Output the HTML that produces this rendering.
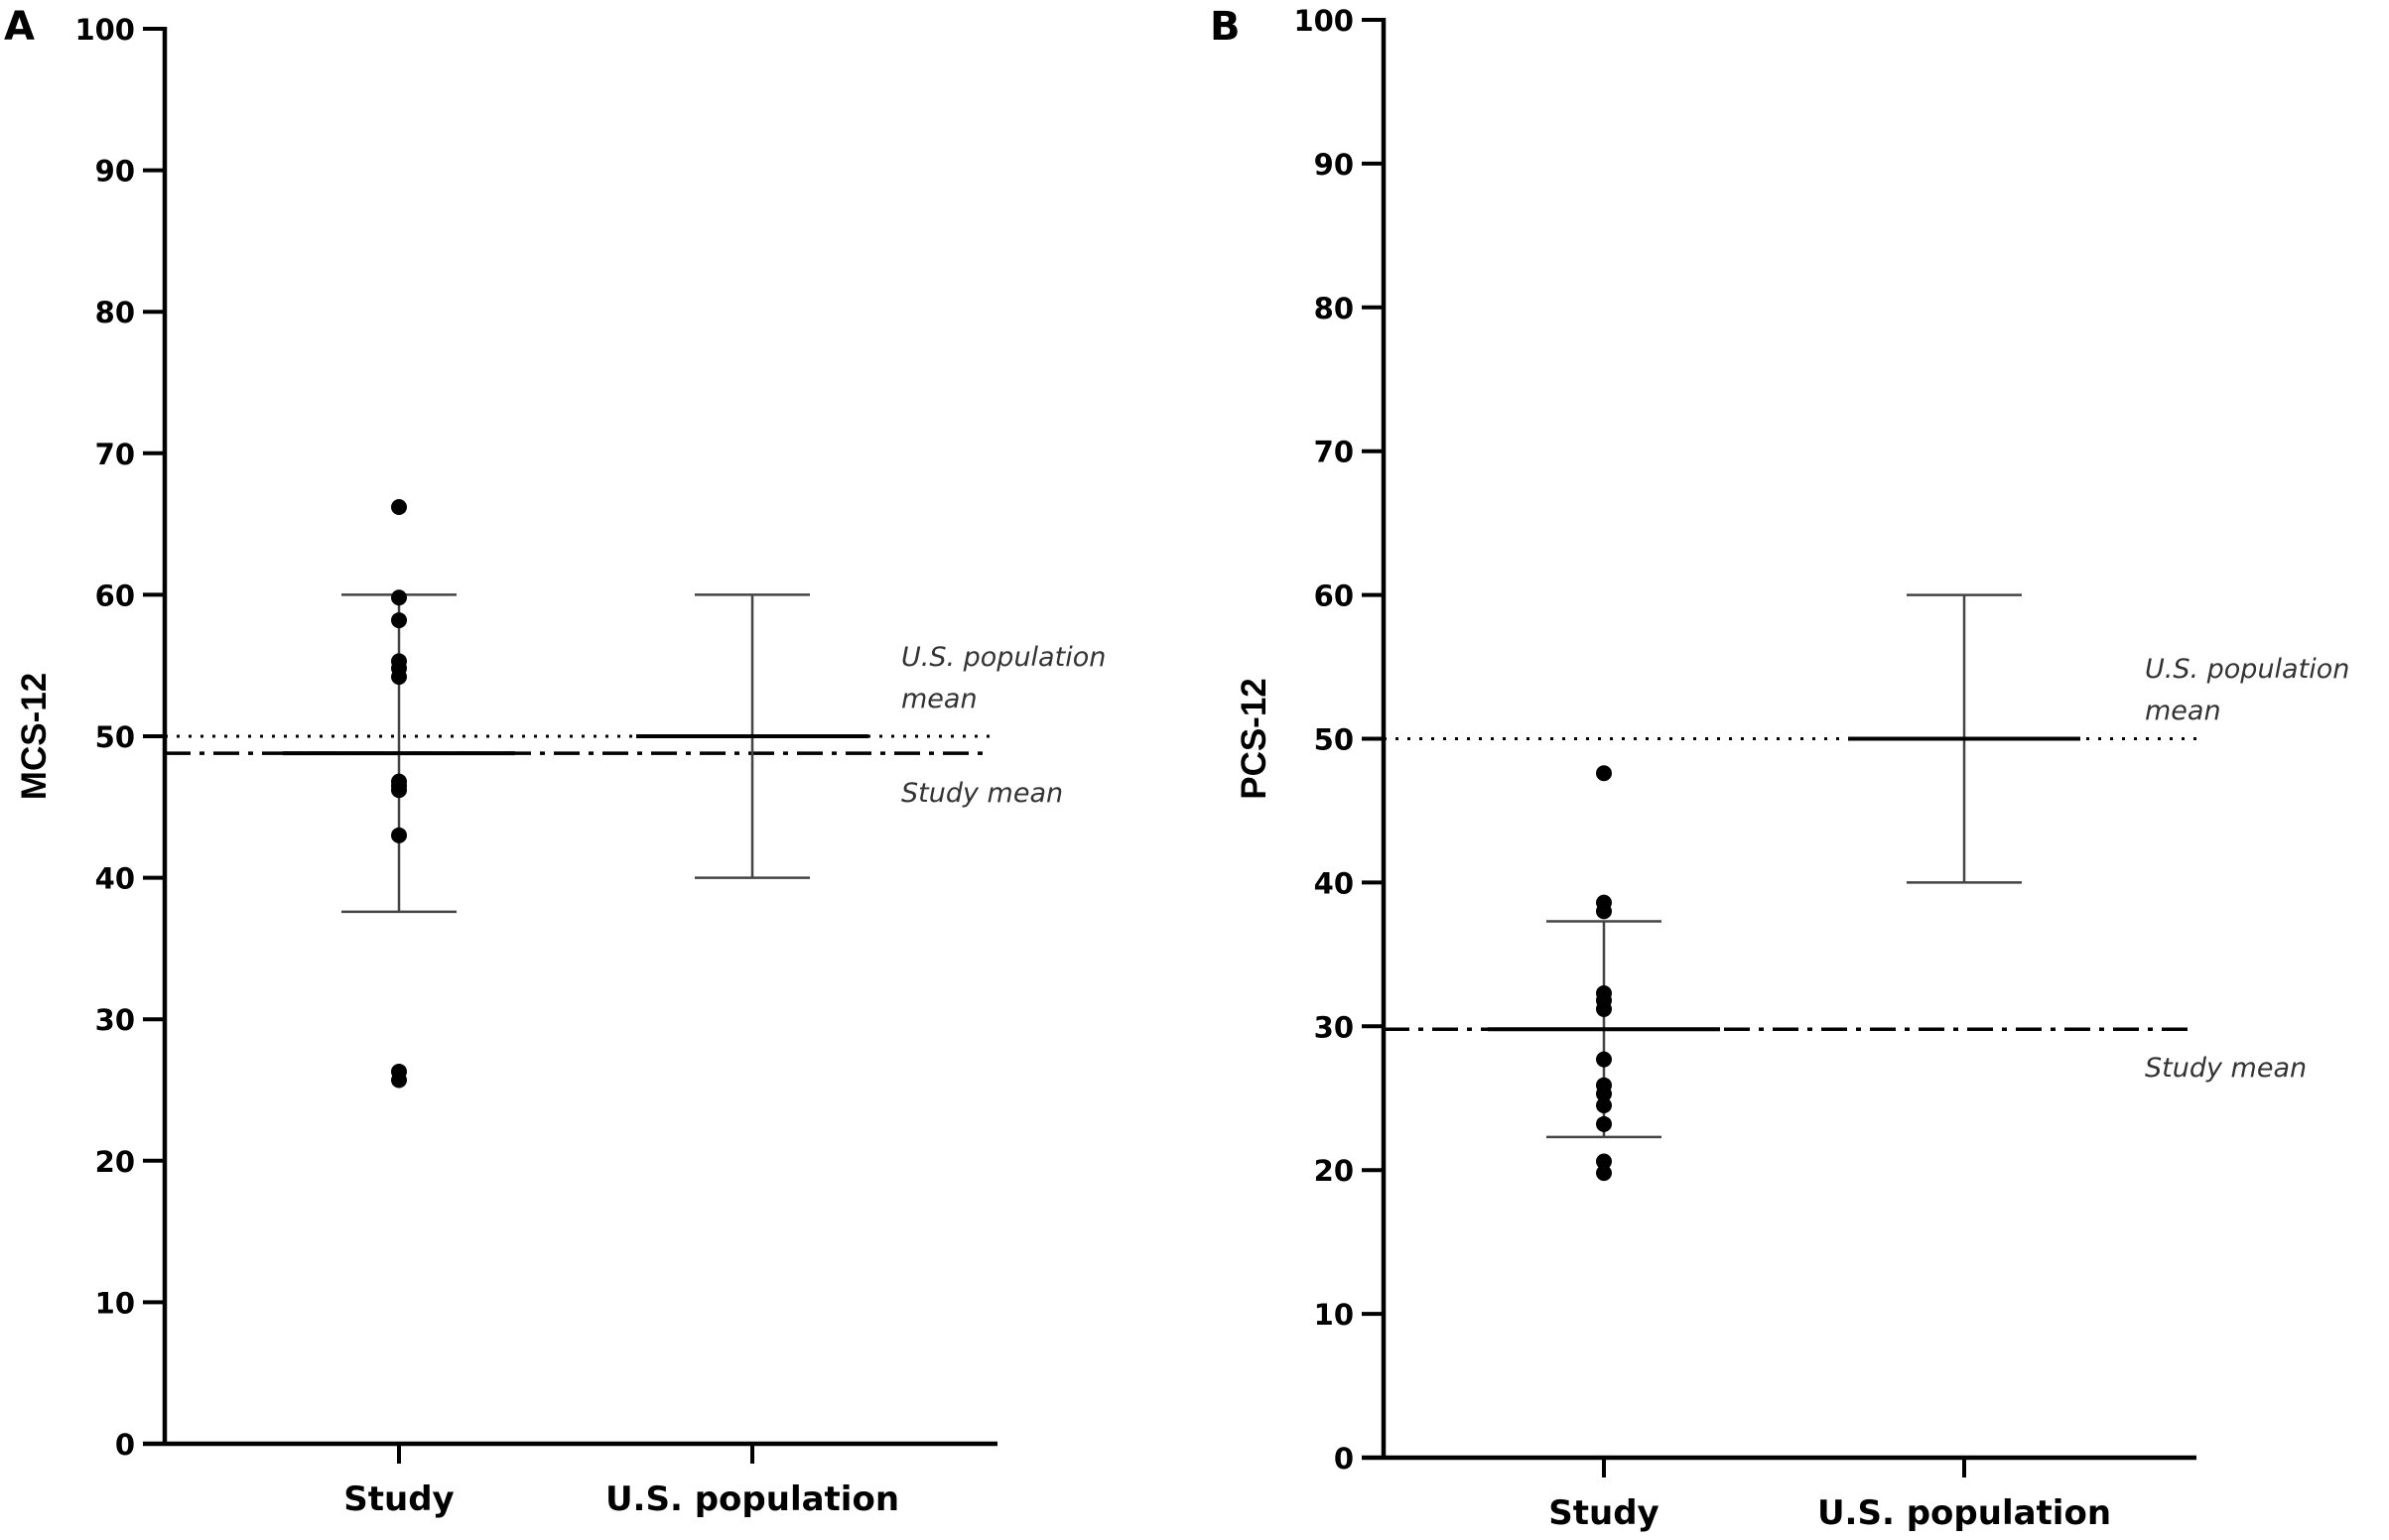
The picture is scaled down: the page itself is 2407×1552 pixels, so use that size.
<!DOCTYPE html>
<html><head><meta charset="utf-8"><style>
html,body{margin:0;padding:0;background:#fff}
svg{display:block}
text{font-family:"Liberation Sans",Arial,sans-serif}
.w{font-family:"DejaVu Sans",sans-serif}
</style></head><body>
<svg id="c" width="2407" height="1552" viewBox="0 0 2407 1552"></svg>
<script>
const yTicks=[0,10,20,30,40,50,60,70,80,90,100];
const categories=["Study","U.S. population"];
const mcsPoints=[66.2,59.8,58.2,55.3,54.8,54.2,46.8,46.5,46.2,43.0,26.3,25.7];
const mcsMean=[48.8,50];
const mcsLow=[37.6,40];
const mcsHigh=[60.0,60];
const pcsPoints=[47.6,38.6,38.0,32.3,31.8,31.2,27.7,25.9,25.3,24.5,23.2,20.6,19.8];
const pcsMean=[29.8,50];
const pcsLow=[22.3,40];
const pcsHigh=[37.3,60];
const popMean=50;

const NS="http://www.w3.org/2000/svg";
const svg=document.getElementById('c');
function el(t,a,p){const e=document.createElementNS(NS,t);for(const k in a)e.setAttribute(k,a[k]);(p||svg).appendChild(e);return e;}

function panel(o){
  const g=el('g',{});
  
  
  const y=v=>o.y0+(o.y100-o.y0)*v/100;
  const xs=[o.xStudy,o.xUS];
  const L=el('text',{x:o.letterX,y:40,'font-size':40,'font-weight':'bold',class:'w'},g);L.textContent=o.letter;
  
  
  const ya=el('line',{x1:o.ax,y1:y(100)-2,x2:o.ax,y2:y(0)+2,stroke:'#000','stroke-width':4.5},g);
  
  
  const xa=el('line',{x1:o.ax-22,y1:y(0),x2:o.axEnd,y2:y(0),stroke:'#000','stroke-width':4.5},g);
  
  
  yTicks.forEach(v=>{
    el('line',{x1:o.ax-22,y1:y(v),x2:o.ax,y2:y(v),stroke:'#000','stroke-width':4},g);
    const t=el('text',{x:o.ax-30,y:y(v)+11,'font-size':29,'font-weight':'bold','text-anchor':'end',class:'w'},g);
    t.textContent=v;
    
    
  });
  categories.forEach((c,i)=>{
    el('line',{x1:xs[i],y1:y(0),x2:xs[i],y2:y(0)+20,stroke:'#000','stroke-width':4},g);
    const t=el('text',{x:xs[i],y:o.y0+67,'font-size':34,'font-weight':'bold','text-anchor':'middle',class:'w'},g);
    t.textContent=c;
    
    
  });
  const yt=el('text',{x:0,y:0,'font-size':35,'font-weight':'bold','text-anchor':'middle',transform:`translate(${o.titleX},${(y(50))}) rotate(-90)`},g);
  yt.textContent=o.title;
  
  
  const d1=el('line',{x1:o.ax,y1:y(popMean),x2:o.dotEnd,y2:y(popMean),stroke:'#000','stroke-width':3,'stroke-dasharray':'3 9'},g);
  
  
  const d2=el('line',{x1:o.ax,y1:y(o.mean[0]),x2:o.dashEnd,y2:y(o.mean[0]),stroke:'#000','stroke-width':3.5,'stroke-dasharray':'26 9 5 9'},g);
  
  
  categories.forEach((c,i)=>{
    const x=xs[i];
    const e=el('g',{},g);
    
    
    el('line',{x1:x,y1:y(o.low[i]),x2:x,y2:y(o.high[i]),stroke:'#444','stroke-width':2.5},e);
    el('line',{x1:x-58,y1:y(o.low[i]),x2:x+58,y2:y(o.low[i]),stroke:'#444','stroke-width':2.5},e);
    el('line',{x1:x-58,y1:y(o.high[i]),x2:x+58,y2:y(o.high[i]),stroke:'#444','stroke-width':2.5},e);
    el('line',{x1:x-117,y1:y(o.mean[i]),x2:x+117,y2:y(o.mean[i]),stroke:'#000','stroke-width':4},e);
  });
  o.points.forEach(v=>{
    const c=el('circle',{cx:xs[0],cy:y(v),r:8,fill:'#000'},g);
    
    
  });
  const lab=[["U.S. population",o.labY1],["mean",o.labY2],["Study mean",o.labY3]];
  lab.forEach(([s,yy])=>{
    const t=el('text',{x:o.labX,y:yy,'font-size':27,'font-style':'italic',fill:'#333',class:'w'},g);
    t.textContent=s;
    
    
  });
}
panel({name:'panel-a-mcs',letter:'A',letterX:4,ax:166,axEnd:1005,y0:1455,y100:29,xStudy:402,xUS:758,title:'MCS-12',titleX:46,
  points:mcsPoints,mean:mcsMean,low:mcsLow,high:mcsHigh,dotEnd:1002,dashEnd:992,labX:908,labY1:671,labY2:713,labY3:808});
panel({name:'panel-b-pcs',letter:'B',letterX:1219,ax:1394,axEnd:2213,y0:1469,y100:20,xStudy:1616,xUS:1979,title:'PCS-12',titleX:1275,
  points:pcsPoints,mean:pcsMean,low:pcsLow,high:pcsHigh,dotEnd:2218,dashEnd:2210,labX:2161,labY1:683,labY2:725,labY3:1085});
</script>
</body></html>
